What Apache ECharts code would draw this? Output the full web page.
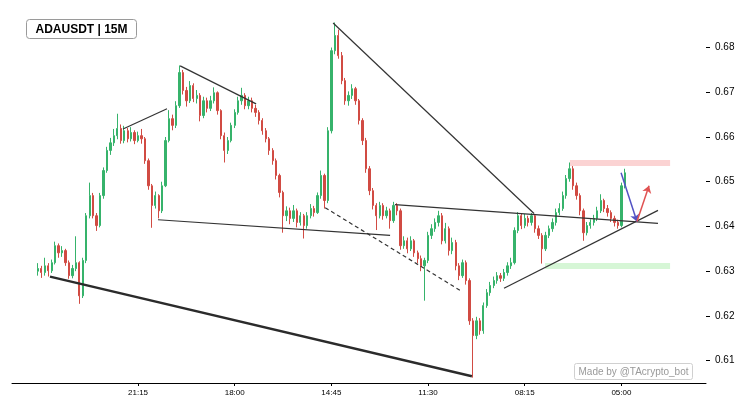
<!DOCTYPE html>
<html>
<head>
<meta charset="utf-8">
<script src="https://cdn.jsdelivr.net/npm/echarts@6/dist/echarts.min.js"></script>
<style>html,body{margin:0;background:#fff}#chart{width:752px;height:414px}</style>
</head>
<body>
<div id="chart"></div>
<script>
// x axis: one slot per candle, labels only at a few slots
const slotCount = 201
const firstSlot = 7
const tickSlots = [36, 64, 92, 120, 148, 176]
const tickLabels = ['21:15', '18:00', '14:45', '11:30', '08:15', '05:00']
const priceTicks = [0.61, 0.62, 0.63, 0.64, 0.65, 0.66, 0.67, 0.68]

// candles, [open, close, low, high]
const candles = [
  [.6300,.6306,.6290,.6318],[.6306,.6297,.6285,.6312],[.6297,.6312,.6290,.6330],[.6312,.6301,.6288,.6318],
  [.6301,.6319,.6296,.6326],[.6319,.6357,.6315,.6366],[.6357,.6341,.6330,.6362],[.6341,.6346,.6332,.6356],
  [.6346,.6319,.6312,.6350],[.6319,.6290,.6283,.6324],[.6290,.6306,.6284,.6314],[.6306,.6319,.6300,.6378],
  [.6319,.6245,.6227,.6322],[.6245,.6324,.6240,.6330],[.6324,.6424,.6318,.6430],[.6424,.6469,.6418,.6498],
  [.6469,.6424,.6418,.6475],[.6424,.6402,.6390,.6430],[.6402,.6469,.6398,.6475],[.6469,.6525,.6462,.6532],
  [.6525,.6570,.6520,.6578],[.6570,.6587,.6560,.6598],[.6587,.6603,.6580,.6618],[.6603,.6619,.6595,.6652],
  [.6619,.6592,.6585,.6628],[.6592,.6614,.6586,.6625],[.6614,.6596,.6588,.6620],[.6596,.6610,.6590,.6622],
  [.6610,.6592,.6584,.6615],[.6592,.6603,.6588,.6612],[.6603,.6596,.6585,.6618],[.6596,.6547,.6540,.6600],
  [.6547,.6491,.6482,.6552],[.6491,.6447,.6397,.6495],[.6447,.6469,.6440,.6478],[.6469,.6435,.6418,.6472],
  [.6435,.6491,.6430,.6500],[.6491,.6592,.6488,.6600],[.6592,.6641,.6588,.6660],[.6641,.6626,.6615,.6650],
  [.6626,.6670,.6620,.6680],[.6670,.6744,.6665,.6760],[.6744,.6704,.6695,.6750],[.6704,.6681,.6668,.6712],
  [.6681,.6715,.6676,.6725],[.6715,.6686,.6678,.6720],[.6686,.6693,.6675,.6705],[.6693,.6648,.6635,.6698],
  [.6648,.6681,.6642,.6690],[.6681,.6664,.6655,.6688],[.6664,.6681,.6658,.6692],[.6681,.6699,.6675,.6711],
  [.6699,.6659,.6650,.6702],[.6659,.6603,.6595,.6662],[.6603,.6570,.6543,.6610],[.6570,.6592,.6562,.6600],
  [.6592,.6626,.6588,.6632],[.6626,.6655,.6620,.6662],[.6655,.6681,.6650,.6690],[.6681,.6693,.6672,.6710],
  [.6693,.6670,.6662,.6698],[.6670,.6681,.6662,.6690],[.6681,.6664,.6655,.6688],[.6664,.6655,.6645,.6672],
  [.6655,.6637,.6628,.6660],[.6637,.6614,.6605,.6642],[.6614,.6596,.6588,.6620],[.6596,.6570,.6560,.6600],
  [.6570,.6547,.6538,.6575],[.6547,.6514,.6505,.6552],[.6514,.6476,.6465,.6518],[.6476,.6424,.6386,.6480],
  [.6424,.6435,.6412,.6445],[.6435,.6418,.6405,.6442],[.6418,.6435,.6410,.6448],[.6435,.6409,.6398,.6440],
  [.6409,.6424,.6402,.6432],[.6424,.6402,.6373,.6428],[.6402,.6424,.6395,.6432],[.6424,.6440,.6418,.6450],
  [.6440,.6431,.6422,.6446],[.6431,.6469,.6428,.6476],[.6469,.6514,.6462,.6525],[.6514,.6458,.6440,.6518],
  [.6458,.6614,.6452,.6622],[.6614,.6793,.6608,.6800],[.6793,.6827,.6785,.6856],[.6827,.6782,.6775,.6840],
  [.6782,.6726,.6718,.6790],[.6726,.6681,.6672,.6732],[.6681,.6693,.6670,.6702],[.6693,.6708,.6685,.6718],
  [.6708,.6681,.6672,.6712],[.6681,.6637,.6628,.6685],[.6637,.6592,.6582,.6642],[.6592,.6529,.6520,.6598],
  [.6529,.6480,.6470,.6535],[.6480,.6447,.6438,.6486],[.6447,.6424,.6392,.6452],[.6424,.6447,.6418,.6455],
  [.6447,.6424,.6415,.6452],[.6424,.6435,.6418,.6444],[.6435,.6413,.6395,.6440],[.6413,.6447,.6408,.6455],
  [.6447,.6435,.6425,.6452],[.6435,.6357,.6348,.6440],[.6357,.6368,.6350,.6378],[.6368,.6350,.6340,.6375],
  [.6350,.6368,.6345,.6378],[.6368,.6341,.6332,.6372],[.6341,.6328,.6318,.6346],[.6328,.6312,.6300,.6335],
  [.6312,.6324,.6234,.6330],[.6324,.6380,.6318,.6388],[.6380,.6395,.6372,.6405],[.6395,.6409,.6388,.6418],
  [.6409,.6424,.6400,.6435],[.6424,.6368,.6360,.6430],[.6368,.6395,.6362,.6408],[.6395,.6346,.6335,.6400],
  [.6346,.6364,.6338,.6375],[.6364,.6312,.6302,.6370],[.6312,.6290,.6280,.6318],[.6290,.6319,.6285,.6326],
  [.6319,.6279,.6270,.6324],[.6279,.6189,.6180,.6284],[.6189,.6156,.6062,.6195],[.6156,.6189,.6148,.6198],
  [.6189,.6167,.6158,.6195],[.6167,.6223,.6160,.6230],[.6223,.6252,.6218,.6260],[.6252,.6268,.6245,.6276],
  [.6268,.6279,.6262,.6288],[.6279,.6290,.6272,.6298],[.6290,.6284,.6276,.6296],[.6284,.6297,.6278,.6305],
  [.6297,.6312,.6290,.6320],[.6312,.6319,.6305,.6330],[.6319,.6391,.6315,.6398],[.6391,.6424,.6385,.6432],
  [.6424,.6402,.6394,.6430],[.6402,.6418,.6396,.6428],[.6418,.6409,.6400,.6424],[.6409,.6424,.6402,.6430],
  [.6424,.6395,.6386,.6428],[.6395,.6380,.6372,.6402],[.6380,.6350,.6317,.6385],[.6350,.6380,.6345,.6388],
  [.6380,.6395,.6374,.6402],[.6395,.6409,.6388,.6418],[.6409,.6431,.6402,.6440],[.6431,.6440,.6425,.6452],
  [.6440,.6469,.6435,.6478],[.6469,.6507,.6462,.6515],[.6507,.6529,.6500,.6543],[.6529,.6491,.6482,.6535],
  [.6491,.6469,.6460,.6498],[.6469,.6435,.6425,.6474],[.6435,.6386,.6368,.6440],[.6386,.6402,.6380,.6410],
  [.6402,.6409,.6395,.6416],[.6409,.6418,.6402,.6426],[.6418,.6435,.6412,.6444],[.6435,.6458,.6430,.6472],
  [.6458,.6440,.6432,.6462],[.6440,.6431,.6422,.6448],[.6431,.6418,.6410,.6436],[.6418,.6409,.6400,.6424],
  [.6409,.6402,.6395,.6415],[.6402,.6491,.6398,.6498],[.6491,.6520,.6485,.6529]
]

// drawn annotations, [slot, price] pairs
const bigSupport = [[10.5, 0.6288], [132.7, 0.6065]]
const trendLines = [
  [[31.65, 0.6618], [44.4, 0.6663]],
  [[48.2, 0.6759], [70.2, 0.6674]],
  [[41.8, 0.6415], [109.0, 0.6380]],
  [[92.5, 0.6855], [150.7, 0.6429]],
  [[110.4, 0.6449], [186.6, 0.6407]],
  [[142.0, 0.6262], [186.6, 0.6436]]
]
const dashedLine = [[90.2, 0.6442], [129.3, 0.6257]]
const resistanceZone = [[161.1, 0.6542], [190.1, 0.6542]]
const supportZone = [[153.9, 0.6312], [190.1, 0.6312]]
const downArrow = [[175.9, 0.6520], [180.5, 0.6411]]
const upArrow = [[180.5, 0.6411], [184.0, 0.6491]]

const UP = '#36b36b', DOWN = '#d14b43'
const FONT = 'Liberation Sans, Arial, sans-serif'

const cats = Array.from({ length: slotCount }, (_, i) => String(i))
const series0 = cats.map((_, i) => {
  const c = candles[i - firstSlot]
  return c ? c : '-'
})
const isTick = i => tickSlots.includes(i)

const chart = echarts.init(document.getElementById('chart'))
chart.setOption({
  animation: false,
  backgroundColor: '#fff',
  grid: { left: 12, right: 46, top: 14, bottom: 31 },
  xAxis: [{
    type: 'category', data: cats, boundaryGap: true,
    axisLine: { onZero: false, lineStyle: { color: '#000', width: 1 } },
    axisTick: { show: true, alignWithLabel: true, interval: isTick, length: 3, lineStyle: { color: '#000' } },
    axisLabel: {
      interval: isTick, margin: 6, color: '#000', fontSize: 8, fontFamily: FONT,
      formatter: v => tickLabels[tickSlots.indexOf(Number(v))] || ''
    },
    splitLine: { show: false }
  }, {
    type: 'value', min: -0.5, max: slotCount - 0.5, show: false
  }],
  yAxis: {
    type: 'value', position: 'right', min: 0.605, max: 0.6875, scale: true,
    axisLine: { show: false, onZero: false },
    axisTick: { show: true, length: 4, customValues: priceTicks, lineStyle: { color: '#000' } },
    axisLabel: { customValues: priceTicks, margin: 9, color: '#000', fontSize: 10, fontFamily: FONT, formatter: v => v.toFixed(2) },
    splitLine: { show: false }
  },
  series: [{
    type: 'candlestick', data: series0, barWidth: 1.8,
    itemStyle: { color: UP, color0: DOWN, borderColor: UP, borderColor0: DOWN, borderWidth: 1 },
    z: 2
  }, {
    type: 'lines', coordinateSystem: 'cartesian2d', xAxisIndex: 1, yAxisIndex: 0, z: 1, silent: true,
    data: [
      { coords: resistanceZone, lineStyle: { color: '#fbd3d3', width: 6, opacity: 1, cap: 'butt' } },
      { coords: supportZone, lineStyle: { color: '#d6f6d6', width: 6, opacity: 1, cap: 'butt' } }
    ]
  }, {
    type: 'lines', coordinateSystem: 'cartesian2d', xAxisIndex: 1, yAxisIndex: 0, z: 3, silent: true,
    lineStyle: { color: '#333', width: 1.2, opacity: 1 },
    data: [
      { coords: bigSupport, lineStyle: { color: '#2b2b2b', width: 2.4 } },
      ...trendLines.map(c => ({ coords: c })),
      { coords: dashedLine, lineStyle: { type: [4, 3] } }
    ]
  }, {
    type: 'lines', coordinateSystem: 'cartesian2d', xAxisIndex: 1, yAxisIndex: 0, z: 4, silent: true,
    symbol: ['none', 'arrow'], symbolSize: 7,
    data: [
      { coords: downArrow, lineStyle: { color: '#5252c4', width: 1.5, opacity: 1 } },
      { coords: upArrow, lineStyle: { color: '#e05252', width: 1.5, opacity: 1 } }
    ]
  }],
  graphic: [{
    type: 'group', left: 26, top: 19, children: [
      { type: 'rect', shape: { x: 0, y: 0, width: 110, height: 19, r: 3 }, style: { fill: '#fff', stroke: '#9a9a9a', lineWidth: 1 } },
      { type: 'text', x: 55, y: 10, style: { text: 'ADAUSDT | 15M', fill: '#000', font: 'bold 12px ' + FONT, align: 'center', verticalAlign: 'middle' } }
    ]
  }, {
    type: 'group', left: 574, top: 363, children: [
      { type: 'rect', shape: { x: 0, y: 0, width: 118, height: 16, r: 2 }, style: { fill: 'rgba(255,255,255,0.8)', stroke: '#d0d0d0', lineWidth: 1 } },
      { type: 'text', x: 59, y: 8.5, style: { text: 'Made by @TAcrypto_bot', fill: '#999', font: '10px ' + FONT, align: 'center', verticalAlign: 'middle' } }
    ]
  }]
})
</script>
</body>
</html>
